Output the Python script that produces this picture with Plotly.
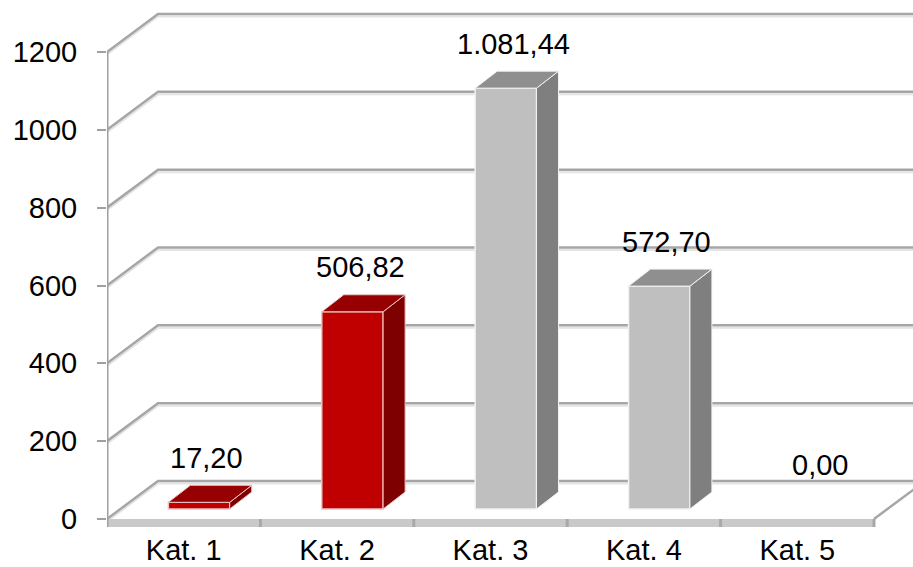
import plotly.graph_objects as go

# ---------------- data ----------------
categories = ["Kat. 1", "Kat. 2", "Kat. 3", "Kat. 4", "Kat. 5"]
values = [17.20, 506.82, 1081.44, 572.70, 0.00]
y_ticks = [0, 200, 400, 600, 800, 1000, 1200]

front_colors = ["#C00000", "#C00000", "#BFBFBF", "#BFBFBF", "#BFBFBF"]
side_colors = ["#7F0000", "#7F0000", "#7F7F7F", "#7F7F7F", "#7F7F7F"]
top_colors = ["#960000", "#960000", "#8F8F8F", "#8F8F8F", "#8F8F8F"]
edge_colors = ["#EDC4C4", "#EDC4C4", "#F2F2F2", "#F2F2F2", "#F2F2F2"]


def de_fmt(v):
    s = f"{v:,.2f}"
    return s.replace(",", "X").replace(".", ",").replace("X", ".")


labels = [de_fmt(v) for v in values]

# ---------------- geometry (pixel -> data units) ----------------
W, H = 913, 567
PX_X = 153.4            # px per category
PX_Y = 467.0 / 1200.0   # px per value unit
L, R, T, B = 107, 0, 5, 37
x_max = (W - L - R) / PX_X
y_min = -(H - B - 519) / PX_Y
y_max = (519 - T) / PX_Y

BX, BY = 51 / PX_X, 38 / PX_Y          # depth of the wall/floor
DX, DY = 22 / PX_X, 17 / PX_Y          # depth of a bar
BAR_SHIFT = 0.1                         # bar front offset from category centre
BAR_BASE = 10 / PX_Y
BAR_W = 0.4
FLOOR = 8 / PX_Y
LABEL_GAP = 140
n = len(categories)
FONT = "Liberation Sans, Arial, sans-serif"

shapes = []
# back wall / left wall gridlines
for v in y_ticks:
    off = 2.5 / PX_Y
    shapes.append(dict(type="path", layer="below",
                       path=f"M0,{v - off} L{BX},{v + BY - off} L{n + BX + 0.3},{v + BY - off}",
                       line=dict(color="#E4E4E4", width=2)))
    shapes.append(dict(type="path", layer="below",
                       path=f"M0,{v} L{BX},{v + BY} L{n + BX + 0.3},{v + BY}",
                       line=dict(color="#A6A6A6", width=2.5)))
# right floor edge
shapes.append(dict(type="path", layer="below",
                   path=f"M{n},0 L{n + BX},{BY}",
                   line=dict(color="#A6A6A6", width=2.5)))
# floor front band
shapes.append(dict(type="rect", layer="below", x0=0, x1=n, y0=-FLOOR, y1=0,
                   fillcolor="#C9C9C9", line=dict(width=0)))
for k in range(1, n + 1):
    shapes.append(dict(type="line", layer="below", x0=k, x1=k, y0=-FLOOR, y1=0,
                       line=dict(color="#A8A8A8", width=3)))
# front value axis line
shapes.append(dict(type="line", layer="below", x0=0, x1=0, y0=-FLOOR, y1=y_ticks[-1],
                   line=dict(color="#A0A0A0", width=3)))

fig = go.Figure()

centers = [i + 0.5 + BAR_SHIFT for i in range(n)]
fig.add_trace(go.Bar(
    x=centers, y=values, base=[BAR_BASE] * n, width=BAR_W,
    marker=dict(color=front_colors,
                line=dict(color=edge_colors, width=[1.5 if v > 0 else 0 for v in values])),
    hoverinfo="skip", showlegend=False))

for i, v in enumerate(values):
    if v <= 0:
        continue
    xl = centers[i] - BAR_W / 2
    xr = centers[i] + BAR_W / 2
    b0 = BAR_BASE
    t0 = BAR_BASE + v
    # side face
    fig.add_trace(go.Scatter(
        x=[xr, xr + DX, xr + DX, xr, xr],
        y=[b0, b0 + DY, t0 + DY, t0, b0],
        mode="lines", fill="toself", fillcolor=side_colors[i],
        line=dict(color=edge_colors[i], width=1), hoverinfo="skip", showlegend=False))
    # top face
    fig.add_trace(go.Scatter(
        x=[xl, xl + DX, xr + DX, xr, xl],
        y=[t0, t0 + DY, t0 + DY, t0, t0],
        mode="lines", fill="toself", fillcolor=top_colors[i],
        line=dict(color=edge_colors[i], width=1), hoverinfo="skip", showlegend=False))

annotations = []
for i, v in enumerate(values):
    annotations.append(dict(
        x=centers[i] + 0.05, y=v + LABEL_GAP, text=labels[i], showarrow=False,
        xanchor="center", yanchor="middle",
        font=dict(size=29, color="#000000", family=FONT)))

fig.update_layout(
    width=W, height=H,
    margin=dict(l=L, r=R, t=T, b=B, pad=0, autoexpand=False),
    paper_bgcolor="white", plot_bgcolor="white",
    shapes=shapes, annotations=annotations,
    font=dict(family=FONT, size=29, color="#000000"),
    xaxis=dict(range=[0, x_max], tickvals=[i + 0.5 for i in range(n)], ticktext=categories,
               showgrid=False, zeroline=False, showline=False, ticks="",
               ticklabelstandoff=0, automargin=False, fixedrange=True),
    yaxis=dict(range=[y_min, y_max], tickvals=y_ticks, ticktext=[str(t) for t in y_ticks],
               showgrid=False, zeroline=False, showline=False,
               ticks="outside", ticklen=9, tickwidth=2, tickcolor="#A0A0A0",
               ticklabelstandoff=14, automargin=False, fixedrange=True),
)

fig.write_html("out.html", config={"displayModeBar": False},
               post_script="document.body.style.margin='0';document.body.style.padding='0';"
                           "document.body.style.overflow='hidden';")
